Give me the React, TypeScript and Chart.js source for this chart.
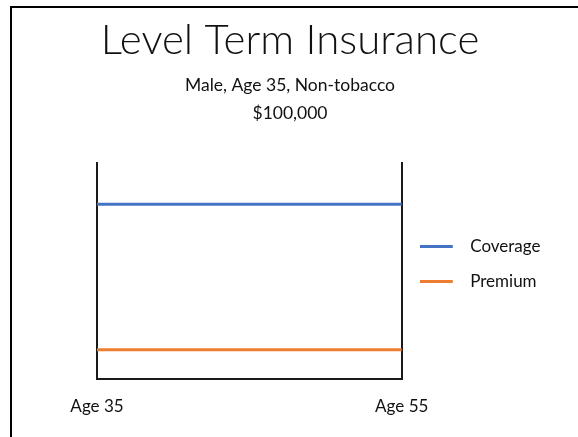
import React, { useEffect, useRef } from 'react';
import { Chart, registerables } from 'chart.js';

Chart.register(...registerables);

const categories = ['Age 35', 'Age 55'];
const coverageValues = [80.5, 80.5];
const premiumValues = [13.5, 13.5];
const seriesNames = ['Coverage', 'Premium'];
const seriesColors = ['#4472C4', '#ED7D31'];
const titleText = 'Level Term Insurance';
const subtitleLines = ['Male, Age 35, Non-tobacco', '$100,000'];

const FONT = 'Lato, "Open Sans", sans-serif';

function legendGlyph(color: string): HTMLCanvasElement {
  const c = document.createElement('canvas');
  c.width = 42;
  c.height = 3;
  const ctx = c.getContext('2d');
  if (ctx) {
    ctx.fillStyle = color;
    ctx.fillRect(0, 0, 33, 3);
  }
  return c;
}

export default function App() {
  const canvasRef = useRef<HTMLCanvasElement | null>(null);

  useEffect(() => {
    if (!canvasRef.current) return;
    const chart = new Chart(canvasRef.current, {
      type: 'line',
      data: {
        labels: categories,
        datasets: [
          {
            label: seriesNames[0],
            data: coverageValues,
            borderColor: seriesColors[0],
            backgroundColor: seriesColors[0],
            borderWidth: 3,
            pointRadius: 0,
            pointHoverRadius: 0,
            pointStyle: legendGlyph(seriesColors[0]),
            tension: 0,
          },
          {
            label: seriesNames[1],
            data: premiumValues,
            borderColor: seriesColors[1],
            backgroundColor: seriesColors[1],
            borderWidth: 3,
            pointRadius: 0,
            pointHoverRadius: 0,
            pointStyle: legendGlyph(seriesColors[1]),
            tension: 0,
          },
        ],
      },
      options: {
        responsive: false,
        animation: false,
        devicePixelRatio: 1,
        layout: { padding: { left: 29.5, right: 27.5, top: 0, bottom: 3.6 } },
        plugins: {
          title: {
            display: true,
            text: titleText,
            color: '#111',
            font: { family: FONT, size: 42, weight: 300 as any, lineHeight: 1.2 },
            padding: { top: 14.8, bottom: 0 },
          },
          subtitle: {
            display: true,
            text: subtitleLines,
            color: '#111',
            font: { family: FONT, size: 17.5, weight: 'normal' as any, lineHeight: 1.63 },
            padding: { top: 5.75, bottom: 34.05 },
          },
          legend: {
            position: 'right',
            align: 'start',
            fullSize: false,
            title: {
              display: true,
              text: ' ',
              color: 'rgba(0,0,0,0)',
              font: { family: FONT, size: 12, lineHeight: 1.2 },
              padding: { top: 0, bottom: 43.1 },
            },
            labels: {
              usePointStyle: true,
              pointStyleWidth: 42,
              padding: 18,
              color: '#111',
              font: { family: FONT, size: 17 },
            },
          },
          tooltip: { enabled: false },
        },
        scales: {
          x: {
            type: 'category',
            offset: false,
            grid: { display: true, drawTicks: false, color: '#1a1a1a', lineWidth: 2 },
            border: { display: true, color: '#1a1a1a', width: 2 },
            ticks: { padding: 17, color: '#111', font: { family: FONT, size: 17, lineHeight: 1.2 }, maxRotation: 0 },
          },
          y: {
            display: false,
            min: 0,
            max: 100,
            afterFit: (scale: any) => {
              scale.width = 67.5;
            },
          },
        },
      },
    });
    return () => chart.destroy();
  }, []);

  return (
    <div style={{ position: 'absolute', left: 0, top: 0, width: 578, height: 437, overflow: 'hidden', background: '#fff' }}>
      <canvas ref={canvasRef} width={578} height={437} style={{ position: 'absolute', left: 0, top: 0, width: 578, height: 437 }} />
      <div
        style={{
          position: 'absolute',
          left: 10,
          top: 6,
          width: 600,
          height: 460,
          borderTop: '2px solid #000',
          borderLeft: '2px solid #000',
          pointerEvents: 'none',
        }}
      />
    </div>
  );
}
